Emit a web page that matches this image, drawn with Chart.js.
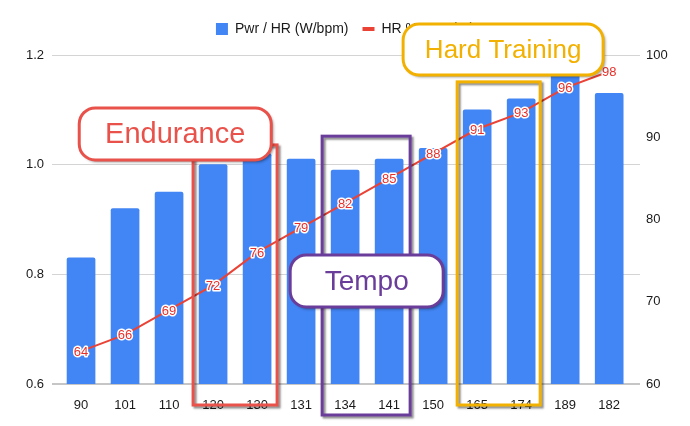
<!DOCTYPE html>
<html>
<head>
<meta charset="utf-8">
<script src="https://cdn.jsdelivr.net/npm/chart.js@4.4.1/dist/chart.umd.min.js"></script>
<style>
  html, body { margin: 0; padding: 0; background: #fff; }
  #wrap { width: 690px; height: 426px; }
</style>
</head>
<body>
<div id="wrap"><canvas id="hrChart" width="690" height="426"></canvas></div>
<script>
// heart rate buckets (x axis categories)
const hrLabels = ["90", "101", "110", "120", "130", "131", "134", "141", "150", "165", "174", "189", "182"];
// power per heart beat, left axis
const pwrPerHr = [0.83, 0.92, 0.95, 1, 1.02, 1.01, 0.99, 1.01, 1.03, 1.1, 1.12, 1.18, 1.13];
// heart rate as % of max, right axis
const hrPercent = [64, 66, 69, 72, 76, 79, 82, 85, 88, 91, 93, 96, 98];
const leftTicks = [0.6, 0.8, 1.0, 1.2];
const rightTicks = [60, 70, 80, 90, 100];

const FONT = '"Liberation Sans", Arial, sans-serif';
const BLUE = "#4285f4";
const RED = "#ea4335";

// zone boxes drawn over the chart (index range on x, top as left-axis value)
const zones = [
  { text: "Endurance", color: "#e8524a", from: 3, to: 4, padL: 20, padR: 20, top: 1.036, below: 21,
    labelX: 2.14, labelY: 1.056, w: 192, h: 52, size: 29 },
  { text: "Tempo", color: "#6a3d9a", from: 6, to: 7, padL: 23, padR: 21, top: 1.052, below: 31,
    labelX: 6.49, labelY: 0.788, w: 153, h: 52, size: 28 },
  { text: "Hard Training", color: "#f2b100", from: 9, to: 10, padL: 20, padR: 19, top: 1.151, below: 21,
    labelX: 9.59, labelY: 1.21, w: 200, h: 51, size: 26 },
];

// make the legend take a fixed height so the plot top sits at 1.2
const legendHeight = {
  id: "legendHeight",
  beforeLayout(chart) {
    const lg = chart.legend;
    if (lg && !lg._patched) {
      const fit = lg.fit;
      lg.fit = function () { fit.call(this); this.height = 47; };
      lg._patched = true;
    }
  },
};

// value labels on bars and on the line
const valueLabels = {
  id: "valueLabels",
  afterDatasetsDraw(chart) {
    const ctx = chart.ctx;
    const bars = chart.getDatasetMeta(0).data;
    const pts = chart.getDatasetMeta(1).data;
    ctx.save();
    ctx.font = "13px " + FONT;
    ctx.textAlign = "center";
    ctx.textBaseline = "middle";
    ctx.fillStyle = "#ffffff";
    bars.forEach((b, i) => ctx.fillText(String(pwrPerHr[i]), b.x, b.base - 11));
    ctx.lineWidth = 3;
    ctx.lineJoin = "round";
    ctx.strokeStyle = "#ffffff";
    ctx.fillStyle = "#e8302a";
    pts.forEach((p, i) => {
      ctx.strokeText(String(hrPercent[i]), p.x, p.y + 1);
      ctx.fillText(String(hrPercent[i]), p.x, p.y + 1);
    });
    ctx.restore();
  },
};

const roundRect = (ctx, x, y, w, h, r) => {
  ctx.beginPath();
  ctx.moveTo(x + r, y);
  ctx.arcTo(x + w, y, x + w, y + h, r);
  ctx.arcTo(x + w, y + h, x, y + h, r);
  ctx.arcTo(x, y + h, x, y, r);
  ctx.arcTo(x, y, x + w, y, r);
  ctx.closePath();
};

const zoneBoxes = {
  id: "zoneBoxes",
  afterDraw(chart) {
    const ctx = chart.ctx;
    const xs = chart.scales.x;
    const ys = chart.scales.y;
    zones.forEach((z) => {
      const left = xs.getPixelForValue(z.from) - z.padL;
      const right = xs.getPixelForValue(z.to) + z.padR;
      const top = ys.getPixelForValue(z.top);
      const bottom = chart.chartArea.bottom + z.below;
      ctx.save();
      ctx.shadowColor = "rgba(0,0,0,0.45)";
      ctx.shadowOffsetX = 2;
      ctx.shadowOffsetY = 2;
      ctx.shadowBlur = 2;
      ctx.strokeStyle = z.color;
      ctx.lineWidth = 3;
      ctx.strokeRect(left, top, right - left, bottom - top);
      ctx.restore();
    });
    zones.forEach((z) => {
      const cx = xs.getPixelForValue(z.labelX);
      const cy = ys.getPixelForValue(z.labelY);
      const x = cx - z.w / 2;
      const y = cy - z.h / 2;
      ctx.save();
      ctx.shadowColor = "rgba(0,0,0,0.45)";
      ctx.shadowOffsetX = 2;
      ctx.shadowOffsetY = 2;
      ctx.shadowBlur = 3;
      roundRect(ctx, x, y, z.w, z.h, 16);
      ctx.fillStyle = "#ffffff";
      ctx.fill();
      ctx.shadowColor = "transparent";
      ctx.lineWidth = 3;
      ctx.strokeStyle = z.color;
      ctx.stroke();
      ctx.fillStyle = z.color;
      ctx.font = z.size + "px " + FONT;
      ctx.textAlign = "center";
      ctx.textBaseline = "middle";
      ctx.fillText(z.text, cx, cy + 1);
      ctx.restore();
    });
  },
};

new Chart(document.getElementById("hrChart"), {
  data: {
    datasets: [
      {
        type: "bar",
        label: "Pwr / HR (W/bpm)",
        data: pwrPerHr.map((v, i) => ({ x: i, y: v })),
        backgroundColor: BLUE,
        borderRadius: 2,
        barThickness: 28,
        yAxisID: "y",
        order: 1,
      },
      {
        type: "line",
        label: "HR % Max (%)",
        data: hrPercent.map((v, i) => ({ x: i, y: v })),
        borderColor: RED,
        backgroundColor: RED,
        borderWidth: 2,
        pointRadius: 0,
        tension: 0,
        yAxisID: "y1",
        order: 0,
      },
    ],
  },
  options: {
    responsive: false,
    animation: false,
    layout: { padding: { top: 8, left: 0, right: 0, bottom: 0 } },
    scales: {
      x: {
        type: "linear",
        offset: false,
        bounds: "data",
        min: -0.66,
        max: 12.7,
        afterBuildTicks: (s) => { s.ticks = hrLabels.map((_, i) => ({ value: i })); },
        afterFit: (s) => { s.height = 42; },
        grid: { display: false, offset: false },
        border: { display: false },
        ticks: {
          autoSkip: false,
          maxRotation: 0,
          padding: 6,
          color: "#1a1a1a",
          font: { family: FONT, size: 13 },
          callback: (v) => hrLabels[v],
        },
      },
      y: {
        position: "left",
        min: 0.6,
        max: 1.2,
        afterBuildTicks: (s) => { s.ticks = leftTicks.map((v) => ({ value: v })); },
        afterFit: (s) => { s.width = 52; },
        border: { display: false },
        grid: {
          drawTicks: false,
          color: (c) => (c.tick && c.tick.value === 0.6 ? "#c6c6c6" : "#d4d4d4"),
          lineWidth: (c) => (c.tick && c.tick.value === 0.6 ? 2 : 1),
        },
        ticks: {
          padding: 8,
          color: "#1a1a1a",
          font: { family: FONT, size: 13 },
          callback: (v) => v.toFixed(1),
        },
      },
      y1: {
        position: "right",
        min: 60,
        max: 100,
        afterBuildTicks: (s) => { s.ticks = rightTicks.map((v) => ({ value: v })); },
        afterFit: (s) => { s.width = 50; },
        border: { display: false },
        grid: { drawOnChartArea: false, drawTicks: false },
        ticks: {
          padding: 6,
          color: "#1a1a1a",
          font: { family: FONT, size: 13 },
        },
      },
    },
    plugins: {
      tooltip: { enabled: false },
      legend: {
        position: "top",
        labels: {
          usePointStyle: true,
          boxHeight: 12,
          pointStyleWidth: 12,
          padding: 14,
          color: "#1a1a1a",
          font: { family: FONT, size: 14 },
          sort: (a, b) => a.datasetIndex - b.datasetIndex,
          generateLabels: (chart) => {
            const items = Chart.defaults.plugins.legend.labels.generateLabels(chart);
            items.forEach((it) => {
              if (it.datasetIndex === 0) {
                it.pointStyle = "rect";
                it.lineWidth = 0;
              } else {
                it.pointStyle = "line";
                it.lineWidth = 4;
                it.strokeStyle = RED;
              }
            });
            return items;
          },
        },
      },
    },
  },
  plugins: [legendHeight, valueLabels, zoneBoxes],
});
</script>
</body>
</html>
